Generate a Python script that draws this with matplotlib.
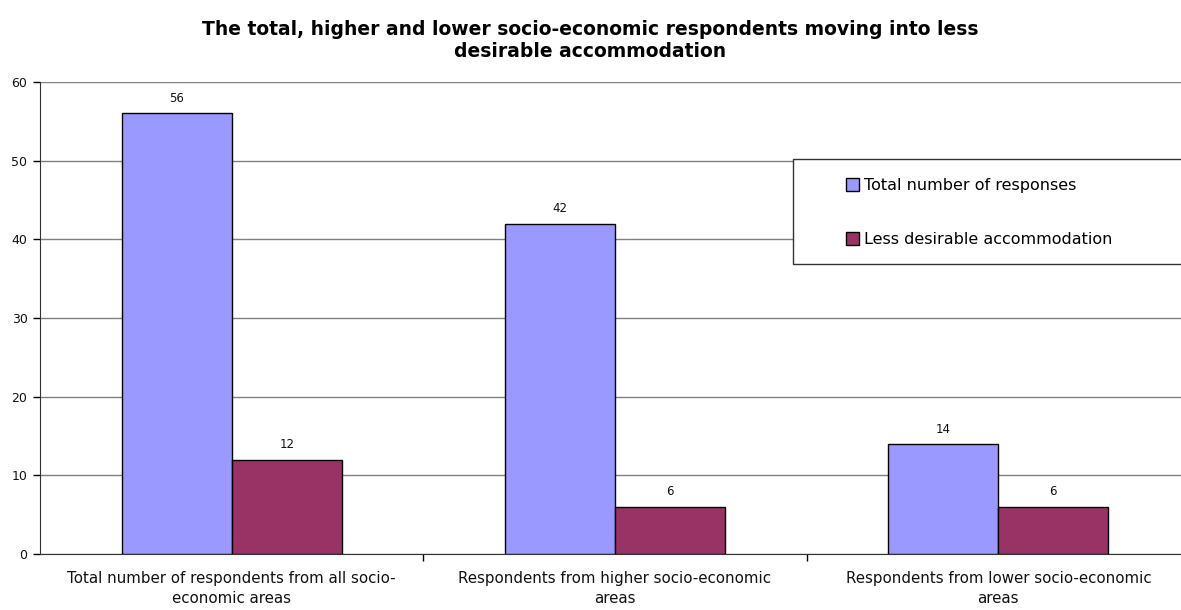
import numpy as np
import matplotlib
matplotlib.use("Agg")
import matplotlib.pyplot as plt
from matplotlib.patches import Rectangle

categories = ["Total number of respondents from all socio-\neconomic areas",
              "Respondents from higher socio-economic\nareas",
              "Respondents from lower socio-economic\nareas"]
total_responses = [56, 42, 14]
less_desirable = [12, 6, 6]
series_names = ["Total number of responses", "Less desirable accommodation"]
yticks = [0, 10, 20, 30, 40, 50, 60]

plt.rcParams['font.family'] = ['DejaVu Sans']

W, H = 1181, 610
fig = plt.figure(figsize=(W / 100, H / 100), dpi=100)
ax = fig.add_axes([40 / W, (H - 554) / H, 1150 / W, (554 - 82) / H])

x = np.arange(len(categories))
w = 0.287
b1 = ax.bar(x - w / 2, total_responses, w, color="#9999FF", edgecolor="black", linewidth=1, zorder=3,
            label=series_names[0])
b2 = ax.bar(x + w / 2, less_desirable, w, color="#993366", edgecolor="black", linewidth=1, zorder=3,
            label=series_names[1])
ax.bar_label(b1, padding=6, fontsize=8.5, color="#111111")
ax.bar_label(b2, padding=6, fontsize=8.5, color="#111111")

ax.set_xlim(-0.5, 2.5)
ax.set_ylim(0, 60)
ax.set_yticks(yticks)
ax.tick_params(axis="y", labelsize=9, length=5, width=1, direction="out", pad=4, labelcolor="#111111")
ax.yaxis.grid(True, color="#808080", linewidth=1, zorder=0)

# category labels centred, ticks on the group boundaries
ax.set_xticks(x)
ax.set_xticklabels(categories, fontsize=10.8, linespacing=1.42, color="#111111")
ax.tick_params(axis="x", length=0, pad=12)
ax.set_xticks([0.5, 1.5], minor=True)
ax.tick_params(axis="x", which="minor", length=5, width=1)

for s in ["top", "right"]:
    ax.spines[s].set_visible(False)
ax.spines["left"].set_color("#333333")
ax.spines["bottom"].set_color("#333333")

fig.suptitle("The total, higher and lower socio-economic respondents moving into less\ndesirable accommodation",
             fontsize=13.5, fontweight="bold", x=0.5, y=0.968, linespacing=1.2)

# legend box
fig.patches.append(Rectangle((793 / W, (H - 264) / H), 400 / W, 105 / H, transform=fig.transFigure,
                             facecolor="white", edgecolor="#333333", linewidth=1, zorder=5))
leg = fig.legend(handles=[b1, b2], loc="upper left", bbox_to_anchor=(846 / W, (H - 178) / H),
                 frameon=False, fontsize=11.5, handlelength=0.8, handleheight=0.8,
                 handletextpad=0.3, labelspacing=2.45, borderpad=0, borderaxespad=0)
leg.set_zorder(6)

fig.savefig("out.png", dpi=100)
